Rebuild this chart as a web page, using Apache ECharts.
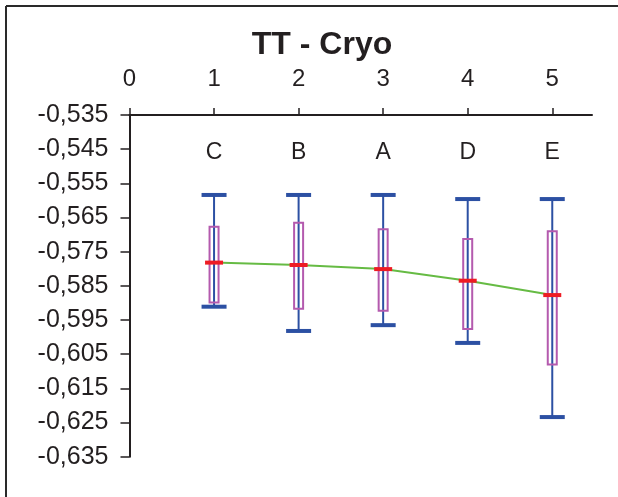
<!DOCTYPE html>
<html>
<head>
<meta charset="utf-8">
<script src="https://cdn.jsdelivr.net/npm/echarts@6/dist/echarts.min.js"></script>
<style>
  html, body { margin: 0; padding: 0; background: #fff; }
  #chart { width: 618px; height: 497px; }
</style>
</head>
<body>
<div id="chart"></div>
<script>
// data
var categories = ['C', 'B', 'A', 'D', 'E'];
var xPos = [1, 2, 3, 4, 5];
var whiskerTop = [-0.5584, -0.5584, -0.5584, -0.5596, -0.5596];
var boxTop = [-0.5677, -0.5665, -0.5684, -0.5713, -0.5690];
var median = [-0.5782, -0.5789, -0.5801, -0.5835, -0.5877];
var boxBottom = [-0.5899, -0.5917, -0.5923, -0.5976, -0.6080];
var whiskerBottom = [-0.5911, -0.5982, -0.5965, -0.6017, -0.6234];
var xTicks = [0, 1, 2, 3, 4, 5];
var yTicks = [-0.635, -0.625, -0.615, -0.605, -0.595, -0.585, -0.575, -0.565, -0.555, -0.545, -0.535];

var letterLevel = -0.546;
var blue = '#2c50a3', magenta = '#b45aae', red = '#ee1c24', green = '#66bb44', ink = '#231f20';
var font = 'Liberation Sans, Arial, sans-serif';

var boxData = [], medData = [], lineData = [];
for (var i = 0; i < categories.length; i++) {
  boxData.push([xPos[i], whiskerTop[i], boxTop[i], boxBottom[i], whiskerBottom[i], categories[i]]);
  medData.push([xPos[i], median[i]]);
  lineData.push([xPos[i], median[i]]);
}

var chart = echarts.init(document.getElementById('chart'), null, { renderer: 'canvas' });

var option = {
  animation: false,
  title: {
    text: 'TT - Cryo',
    left: 317, top: 24, textAlign: 'center',
    textStyle: { fontFamily: font, fontSize: 32, fontWeight: 'bold', color: ink }
  },
  // outer frame: only the top and left edges fall inside the picture
  graphic: [
    { type: 'line', silent: true, shape: { x1: 6, y1: 6, x2: 640, y2: 6 }, style: { stroke: '#2a2a2a', lineWidth: 2 } },
    { type: 'line', silent: true, shape: { x1: 6, y1: 6, x2: 6, y2: 520 }, style: { stroke: '#2a2a2a', lineWidth: 2 } }
  ],
  grid: { left: 129.5, right: 26, top: 115, bottom: 40.3 },
  xAxis: {
    type: 'value', position: 'top', min: 0, max: 5.47, interval: 1,
    axisLine: { onZero: false, lineStyle: { color: ink, width: 2 } },
    axisTick: { length: 7, customValues: xTicks, lineStyle: { color: ink, width: 1.5 } },
    axisLabel: { customValues: xTicks, margin: 24, fontFamily: font, fontSize: 24, color: ink },
    splitLine: { show: false }
  },
  yAxis: {
    type: 'value', min: -0.635, max: -0.535,
    axisLine: { show: true, onZero: false, lineStyle: { color: ink, width: 2 } },
    axisTick: { show: true, length: 9, customValues: yTicks, lineStyle: { color: ink, width: 1.5 } },
    axisLabel: {
      customValues: yTicks, margin: 21, fontFamily: font, fontSize: 25, color: ink,
      formatter: function (v) { return v.toFixed(3).replace('.', ','); }
    },
    splitLine: { show: false }
  },
  series: [
    {
      type: 'custom', z: 2,
      data: boxData,
      encode: { x: 0, y: [1, 2, 3, 4] },
      renderItem: function (params, api) {
        var x = api.value(0);
        var pWT = api.coord([x, api.value(1)]);
        var pBT = api.coord([x, api.value(2)]);
        var pBB = api.coord([x, api.value(3)]);
        var pWB = api.coord([x, api.value(4)]);
        var pL = api.coord([x, letterLevel]);
        var cx = pWT[0];
        return {
          type: 'group',
          children: [
            { type: 'line', shape: { x1: cx, y1: pWT[1], x2: cx, y2: pWB[1] }, style: { stroke: blue, lineWidth: 2 } },
            { type: 'rect', shape: { x: cx - 4.5, y: pBT[1], width: 9, height: pBB[1] - pBT[1] }, style: { fill: 'none', stroke: magenta, lineWidth: 2 } },
            { type: 'line', shape: { x1: cx - 12.5, y1: pWT[1], x2: cx + 12.5, y2: pWT[1] }, style: { stroke: blue, lineWidth: 4 } },
            { type: 'line', shape: { x1: cx - 12.5, y1: pWB[1], x2: cx + 12.5, y2: pWB[1] }, style: { stroke: blue, lineWidth: 4 } },
            { type: 'text', x: cx, y: pL[1], style: { text: api.value(5), fontFamily: font, fontSize: 23, fill: ink, align: 'center', verticalAlign: 'middle' } }
          ]
        };
      }
    },
    {
      type: 'line', z: 3, data: lineData, showSymbol: false, symbol: 'none',
      lineStyle: { color: green, width: 2 }
    },
    {
      type: 'custom', z: 4, data: medData,
      encode: { x: 0, y: 1 },
      renderItem: function (params, api) {
        var p = api.coord([api.value(0), api.value(1)]);
        return { type: 'line', shape: { x1: p[0] - 9, y1: p[1], x2: p[0] + 9, y2: p[1] }, style: { stroke: red, lineWidth: 4 } };
      }
    }
  ]
};

chart.setOption(option);
</script>
</body>
</html>
